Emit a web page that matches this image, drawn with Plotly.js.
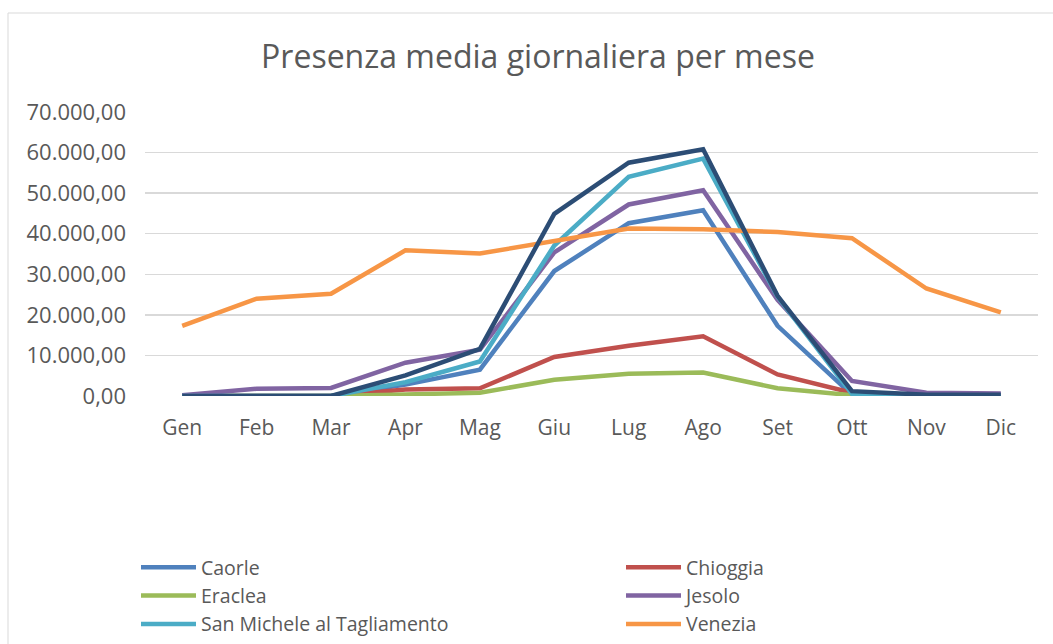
<!DOCTYPE html>
<html>
<head>
<meta charset="utf-8">
<script src="https://cdn.plot.ly/plotly-3.0.1.min.js"></script>
<style>
  html, body { margin: 0; padding: 0; background: #fff; }
  #chart { width: 1053px; height: 644px; }
</style>
</head>
<body>
<div id="chart"></div>
<script>
const months = ['Gen','Feb','Mar','Apr','Mag','Giu','Lug','Ago','Set','Ott','Nov','Dic'];
const caorle     = [0, 0, 0, 2800, 6500, 30800, 42600, 45800, 17300, 300, 0, 0];
const chioggia   = [0, 0, 0, 1600, 1900, 9600, 12400, 14700, 5300, 800, 0, 0];
const eraclea    = [0, 0, 0, 400, 800, 4000, 5500, 5800, 1900, 200, 0, 0];
const jesolo     = [200, 1800, 2000, 8200, 11400, 35400, 47200, 50700, 23700, 3700, 800, 600];
const sanMichele = [0, 0, 0, 3400, 8500, 37100, 54000, 58500, 24500, 500, 0, 0];
const venezia    = [17300, 24000, 25200, 35900, 35100, 38300, 41300, 41100, 40400, 38900, 26500, 20600];
const cavallino  = [0, 0, 0, 5100, 11600, 44900, 57500, 60800, 24700, 1200, 300, 300];

const seriesNames = ['Caorle','Chioggia','Eraclea','Jesolo','San Michele al Tagliamento','Venezia','Cavallino-Treporti'];
const seriesValues = [caorle, chioggia, eraclea, jesolo, sanMichele, venezia, cavallino];
const seriesColors = ['#4F81BD','#C0504D','#9BBB59','#8064A2','#4BACC6','#F79646','#2C4D75'];
const legendOf = ['legend','legend2','legend','legend2','legend','legend2','legend'];

const FONT = '"Open Sans", "Noto Sans", sans-serif';
const GREY = '#595959';

const traces = seriesNames.map((n, i) => ({
  type: 'scatter',
  mode: 'lines',
  name: n,
  x: months,
  y: seriesValues[i],
  line: { color: seriesColors[i], width: 4.5 },
  legend: legendOf[i],
  showlegend: i < 6
}));

const W = 1053, H = 644;
const L = 145, R = 15, T = 112, B = 248;
const pw = W - L - R, ph = H - T - B;
const px = v => (v - L) / pw;
const py = v => (H - B - v) / ph;

const legendBase = {
  orientation: 'v',
  yanchor: 'top',
  xanchor: 'left',
  itemwidth: 55,
  font: { family: FONT, size: 19.5, color: GREY },
  bgcolor: 'rgba(0,0,0,0)',
  tracegroupgap: 0,
  traceorder: 'normal'
};

const layout = {
  width: W, height: H,
  margin: { l: L, r: R, t: T, b: B, pad: 0, autoexpand: false },
  paper_bgcolor: '#ffffff',
  plot_bgcolor: '#ffffff',
  separators: ',.',
  font: { family: FONT, color: GREY, size: 20 },
  title: {
    text: 'Presenza media giornaliera per mese',
    font: { family: FONT, size: 32, color: GREY },
    x: 538 / W, xref: 'container', xanchor: 'center',
    y: 1 - 57 / H, yref: 'container', yanchor: 'middle'
  },
  xaxis: {
    type: 'category',
    range: [-0.5, 11.5],
    showgrid: false,
    zeroline: false,
    showline: false,
    ticks: '',
    automargin: false,
    ticklabelstandoff: 17,
    tickfont: { family: FONT, size: 21, color: GREY },
    fixedrange: true
  },
  yaxis: {
    range: [0, 70000],
    tickvals: [0, 10000, 20000, 30000, 40000, 50000, 60000, 70000],
    tickformat: ',.2f',
    showgrid: true,
    gridcolor: '#D9D9D9',
    gridwidth: 1.5,
    zeroline: false,
    showline: false,
    ticks: '',
    automargin: false,
    ticklabelstandoff: 18,
    tickfont: { family: FONT, size: 22, color: GREY },
    fixedrange: true
  },
  legend: Object.assign({}, legendBase, { x: px(136), y: py(548) }),
  legend2: Object.assign({}, legendBase, { x: px(621), y: py(548) }),
  shapes: [{
    type: 'rect', xref: 'paper', yref: 'paper',
    x0: px(8), x1: px(1070), y0: py(700), y1: py(13),
    line: { color: '#D9D9D9', width: 1 },
    fillcolor: 'rgba(0,0,0,0)',
    layer: 'below'
  }],
  showlegend: true
};

Plotly.newPlot('chart', traces, layout, { displayModeBar: false, staticPlot: true });
</script>
</body>
</html>
